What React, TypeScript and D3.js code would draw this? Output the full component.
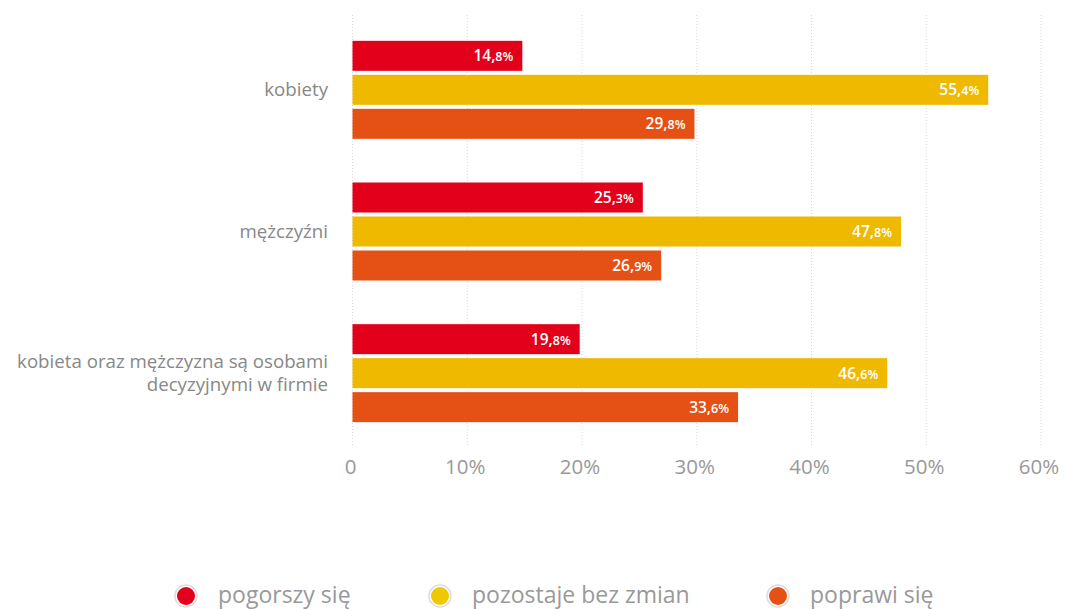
import React from "react";
import * as d3 from "d3";

const categories = ["kobiety", "mężczyźni", "kobieta oraz mężczyzna są osobami decyzyjnymi w firmie"];
const categoryLines = [["kobiety"], ["mężczyźni"], ["kobieta oraz mężczyzna są osobami", "decyzyjnymi w firmie"]];
const seriesNames = ["pogorszy się", "pozostaje bez zmian", "poprawi się"];
const seriesColors = ["#e2001a", "#efb900", "#e55014"];
const legendColors = ["#e2001a", "#f0c800", "#e55014"];
const pogorszy = [14.8, 25.3, 19.8];
const bezZmian = [55.4, 47.8, 46.6];
const poprawi = [29.8, 26.9, 33.6];
const ticks = [0, 10, 20, 30, 40, 50, 60];

const W = 1068, H = 609;

export default function App() {
  const series = [pogorszy, bezZmian, poprawi];
  const x = d3.scaleLinear().domain([0, 60]).range([352.5, 1041]);
  const y = d3.scaleBand().domain(categories).range([19, 444]).paddingInner(0).paddingOuter(0);
  const groupH = 98;
  const inner = d3.scaleBand().domain(["0", "1", "2"]).range([0, groupH]).paddingInner(4 / 34);
  const legendX = [186, 440, 778];
  return (
    <svg width={W} height={H} style={{ position: "absolute", left: 0, top: 0, fontFamily: "'Open Sans', sans-serif" }}>
      {ticks.map((t) => (
        <g key={t}>
          <line x1={x(t)} x2={x(t)} y1={15} y2={446} stroke="#d8d8d8" strokeWidth={1} strokeDasharray="1,2" />
          <text x={x(t) - 2} y={474} textAnchor="middle" fontSize={20.5} fill="#999">{t === 0 ? "0" : `${t}%`}</text>
        </g>
      ))}
      {categories.map((c, ci) => {
        const center = (y(c) as number) + y.bandwidth() / 2;
        const y0 = center - groupH / 2;
        const lines = categoryLines[ci];
        return (
          <g key={c}>
            {lines.map((l, li) => (
              <text key={li} x={328} y={center + 6 + (li - (lines.length - 1) / 2) * 23} textAnchor="end" fontSize={18.7} fill="#888">{l}</text>
            ))}
            {series.map((s, si) => {
              const by = y0 + (inner(String(si)) as number);
              const v = s[ci];
              const [ip, dp] = v.toFixed(1).split(".");
              return (
                <g key={si}>
                  <rect x={x(0)} y={by} width={x(v) - x(0)} height={inner.bandwidth()} fill={seriesColors[si]} />
                  <text x={x(v) - 9} y={by + inner.bandwidth() / 2 + 5.5} textAnchor="end" fill="#fff" fontWeight={600}>
                    <tspan fontSize={15.5}>{ip},</tspan>
                    <tspan fontSize={12.5}>{dp}%</tspan>
                  </text>
                </g>
              );
            })}
          </g>
        );
      })}
      {seriesNames.map((n, i) => (
        <g key={n}>
          <circle cx={legendX[i]} cy={596} r={11} fill="#fff" stroke="#ddd" strokeWidth={1.5} />
          <circle cx={legendX[i]} cy={596} r={9} fill={legendColors[i]} />
          <text x={legendX[i] + 32} y={603} fontSize={23} fill="#999">{n}</text>
        </g>
      ))}
    </svg>
  );
}
